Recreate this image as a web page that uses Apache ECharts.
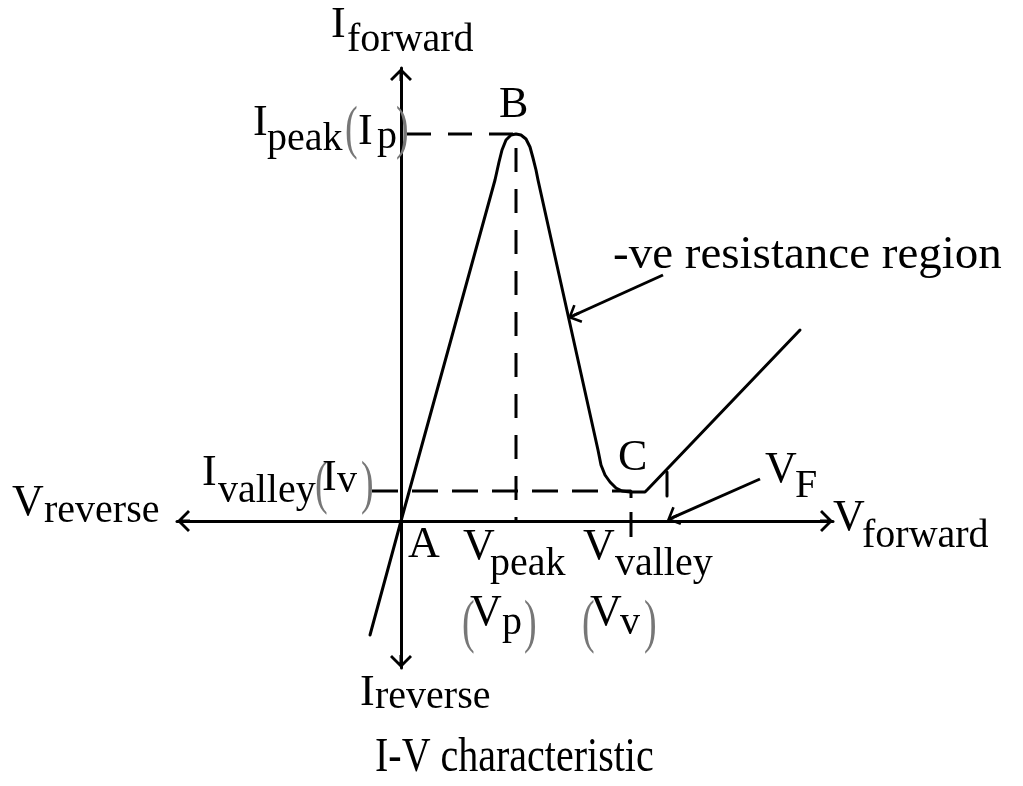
<!DOCTYPE html>
<html><head><meta charset="utf-8">
<script src="https://cdn.jsdelivr.net/npm/echarts@6/dist/echarts.min.js"></script>
<style>html,body{margin:0;padding:0;background:#fff}#c{width:1023px;height:786px}</style>
</head><body><div id="c"></div>
<script>
// I-V characteristic of a tunnel diode (arbitrary units: voltage V, current I)
const curveV = [-3.1, 0, 9.4, 9.8, 10.1, 10.5, 11.0, 11.5, 12.0, 12.5, 12.9, 13.2, 13.5, 13.7, 19.7, 20.0, 20.4, 20.9, 21.5, 22.1, 22.9, 24.4, 24.7, 39.9];
const curveI = [-11.4, 0, 34.1, 35.9, 37.1, 38.1, 38.6, 38.7, 38.6, 38.2, 37.4, 36.3, 35.1, 34.1, 7.1, 5.6, 4.6, 3.9, 3.3, 3.0, 2.9, 2.9, 3.2, 19.1];
const peakPoint = [11.5, 38.7];     // (Vp, Ip)
const valleyPoint = [23.0, 3.0];    // (Vv, Iv)
const vfTick = [26.6, 4.9, 2.5];    // V_F marker: V, I top, I bottom
const voltRange = [-22.4, 43.2];
const currRange = [-14.7, 45.3];
const negArrowFrom = [26.2, 24.6], negArrowTo = [17.25, 20.55];
const vfArrowFrom = [35.9, 4.2], vfArrowTo = [27.15, 0.34];

const ARROW = 'path://M11,0L22,11L20,13L11,4L2,13L0,11Z M9.5,2L12.5,2L12.5,13L9.5,13Z';
const SERIF = '"Liberation Serif", "DejaVu Serif", serif';

const chart = echarts.init(document.getElementById('c'), null, {renderer: 'canvas'});

function txt(x, base, s, size, extra) {
  const e = {
    type: 'text', x: x, y: base - 0.3375 * size, z: 100, silent: true,
    style: {text: s, x: 0, y: 0, font: size + 'px ' + SERIF, fill: '#000',
      align: 'left', verticalAlign: 'middle', textAlign: 'left', textVerticalAlign: 'middle'}
  };
  if (extra) Object.assign(e, extra);
  return e;
}
function paren(x, cy, s) {
  return {
    type: 'text', x: x, y: cy, z: 100, silent: true, scaleY: 1.55,
    style: {text: s, x: 0, y: 0, font: '38px ' + SERIF, fill: '#777',
      align: 'left', verticalAlign: 'middle', textAlign: 'left', textVerticalAlign: 'middle'}
  };
}

const M = 44, S = 40;
const labels = [
  txt(331, 40, 'I', M), txt(347, 54, 'forward', S),
  txt(253, 138, 'I', M), txt(267, 153, 'peak', S), paren(345, 132, '('), txt(358, 147, 'I', M), txt(377, 151, 'p', S), paren(396, 132, ')'),
  txt(202, 488, 'I', M), txt(218, 505, 'valley', S), paren(315, 487, '('), txt(322, 493, 'I', M), txt(337, 495, 'v', S), paren(361, 487, ')'),
  txt(12, 518, 'V', M), txt(44, 525, 'reverse', S),
  txt(833, 533, 'V', M), txt(862, 550, 'forward', S),
  txt(360, 708, 'I', M), txt(375, 711, 'reverse', S),
  txt(408, 560, 'A', M), txt(499, 120, 'B', M), txt(618, 473, 'C', M),
  txt(463, 562, 'V', M), txt(490, 578, 'peak', S),
  txt(583, 562, 'V', M), txt(615, 578, 'valley', S),
  paren(462, 626, '('), txt(470, 628, 'V', M), txt(502, 637, 'p', S), paren(524, 626, ')'),
  paren(582, 626, '('), txt(590, 628, 'V', M), txt(620, 637, 'v', S), paren(644, 626, ')'),
  txt(765, 485, 'V', M), txt(795, 500, 'F', S),
  txt(613, 272, '-ve resistance region', 47),
  txt(375, 772, 'I-V characteristic', 40, {scaleY: 1.2})
];

const axisCommon = {
  type: 'value', show: true,
  axisLine: {show: true, onZero: true, symbol: [ARROW, ARROW], symbolSize: [22, 13], symbolOffset: [6.5, -6.5],
    lineStyle: {color: '#000', width: 3}},
  axisTick: {show: false}, axisLabel: {show: false}, splitLine: {show: false}
};

const solid = {color: '#000', width: 3, cap: 'round', join: 'round'};
const dashed = {color: '#000', width: 3, type: [24, 17]};

chart.setOption({
  animation: false,
  backgroundColor: '#fff',
  grid: {left: 177, right: 190, top: 68, bottom: 118, containLabel: false},
  xAxis: Object.assign({}, axisCommon, {min: voltRange[0], max: voltRange[1]}),
  yAxis: Object.assign({}, axisCommon, {min: currRange[0], max: currRange[1]}),
  series: [
    {
      type: 'line', name: 'I-V', symbol: 'none', clip: false, smooth: false, z: 5,
      data: curveV.map((v, k) => [v, curveI[k]]),
      lineStyle: solid,
      markLine: {
        silent: true, animation: false, precision: 4,
        symbol: ['none', ARROW],
        lineStyle: {color: '#000', width: 3, type: 'solid'},
        label: {show: false},
        emphasis: {disabled: true},
        data: [
          [{coord: negArrowFrom, symbol: 'none'}, {coord: negArrowTo, symbol: ARROW, symbolSize: [20, 12]}],
          [{coord: vfArrowFrom, symbol: 'none'}, {coord: vfArrowTo, symbol: ARROW, symbolSize: [20, 12]}]
        ]
      }
    },
    {
      type: 'line', name: 'peak guide', symbol: 'none', clip: false, z: 4,
      data: [[0.6, peakPoint[1]], [peakPoint[0], peakPoint[1]], [peakPoint[0], 0]],
      lineStyle: dashed
    },
    {
      type: 'line', name: 'valley guide', symbol: 'none', clip: false, z: 4,
      data: [[-2.9, valleyPoint[1]], [valleyPoint[0], valleyPoint[1]], [valleyPoint[0], -1.6]],
      lineStyle: {color: '#000', width: 3, type: [26, 14]}
    },
    {
      type: 'line', name: 'VF tick', symbol: 'none', clip: false, z: 4,
      data: [[vfTick[0], vfTick[1]], [vfTick[0], vfTick[2]]],
      lineStyle: solid
    }
  ],
  graphic: labels
});
</script></body></html>
